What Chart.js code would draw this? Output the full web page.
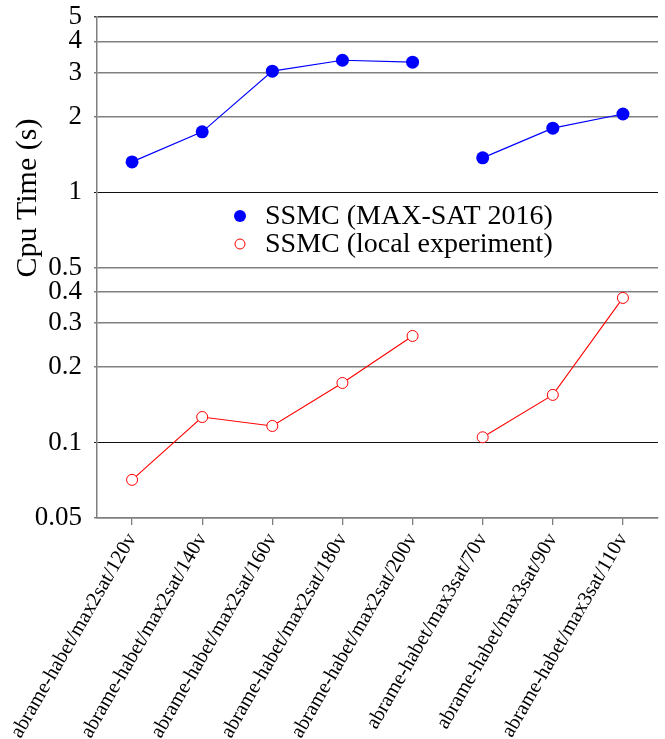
<!DOCTYPE html>
<html>
<head>
<meta charset="utf-8">
<script src="https://cdn.jsdelivr.net/npm/chart.js@4/dist/chart.umd.min.js"></script>
<style>
  html, body { margin: 0; padding: 0; background: #fff; }
  #c { display: block; }
</style>
</head>
<body>
<canvas id="c" width="665" height="739"></canvas>
<script>
const categories = [
  "abrame-habet/max2sat/120v",
  "abrame-habet/max2sat/140v",
  "abrame-habet/max2sat/160v",
  "abrame-habet/max2sat/180v",
  "abrame-habet/max2sat/200v",
  "abrame-habet/max3sat/70v",
  "abrame-habet/max3sat/90v",
  "abrame-habet/max3sat/110v"
];
const ssmcMaxSat2016 = [1.32, 1.74, 3.04, 3.36, 3.30, 1.37, 1.80, 2.05];
const ssmcLocal = [0.071, 0.1265, 0.1165, 0.173, 0.2665, 0.105, 0.155, 0.378];
const yTicks = [0.05, 0.1, 0.2, 0.3, 0.4, 0.5, 1, 2, 3, 4, 5];
const seriesNames = ["SSMC (MAX-SAT 2016)", "SSMC (local experiment)"];
const yTitle = "Cpu Time (s)";
const breakAfterIndex = 4;

const SERIF = "'Liberation Serif', 'DejaVu Serif', serif";

const gapSegment = {
  borderColor: ctx => ctx.p0DataIndex === breakAfterIndex ? 'rgba(0,0,0,0)' : undefined
};

const overlayPlugin = {
  id: 'overlay',
  afterDraw(chart) {
    const ctx = chart.ctx;
    const area = chart.chartArea;
    const y = chart.scales.y;
    // y axis title
    ctx.save();
    ctx.fillStyle = '#000';
    ctx.font = "30px " + SERIF;
    ctx.textAlign = 'center';
    ctx.textBaseline = 'middle';
    ctx.translate(28, y.getPixelForValue(1) + 6);
    ctx.rotate(-Math.PI / 2);
    ctx.fillText(yTitle, 0, 0);
    ctx.restore();
    // legend inside the plot
    const lx = area.left + 143;
    const ly = area.top + 199;
    const rowH = 28;
    chart.data.datasets.forEach((ds, i) => {
      const cy = ly + i * rowH;
      ctx.save();
      ctx.beginPath();
      ctx.arc(lx, cy, ds.pointRadius - 0.5, 0, Math.PI * 2);
      if (ds.pointBackgroundColor && ds.pointBackgroundColor !== '#ffffff') {
        ctx.fillStyle = ds.pointBackgroundColor;
        ctx.fill();
      } else {
        ctx.fillStyle = '#fff';
        ctx.fill();
        ctx.strokeStyle = ds.pointBorderColor;
        ctx.lineWidth = 1;
        ctx.stroke();
      }
      ctx.fillStyle = '#000';
      ctx.font = "28px " + SERIF;
      ctx.textAlign = 'left';
      ctx.textBaseline = 'middle';
      ctx.fillText(ds.label, lx + 25, cy + 1);
      ctx.restore();
    });
  }
};

new Chart(document.getElementById('c'), {
  type: 'line',
  data: {
    labels: categories,
    datasets: [
      {
        label: seriesNames[0],
        data: ssmcMaxSat2016,
        borderColor: '#0000ff',
        borderWidth: 1.2,
        pointRadius: 6.5,
        pointHoverRadius: 6.5,
        pointBackgroundColor: '#0000ff',
        pointBorderColor: '#0000ff',
        pointBorderWidth: 0,
        tension: 0,
        fill: false,
        segment: gapSegment
      },
      {
        label: seriesNames[1],
        data: ssmcLocal,
        borderColor: '#ff0000',
        borderWidth: 1.1,
        pointRadius: 5.5,
        pointHoverRadius: 5.5,
        pointBackgroundColor: '#ffffff',
        pointBorderColor: '#ff0000',
        pointBorderWidth: 1,
        tension: 0,
        fill: false,
        segment: gapSegment
      }
    ]
  },
  options: {
    responsive: false,
    animation: false,
    devicePixelRatio: 1,
    layout: { padding: { top: 17, right: 7, left: 0, bottom: 0 } },
    plugins: {
      legend: { display: false },
      tooltip: { enabled: false }
    },
    scales: {
      x: {
        type: 'category',
        offset: true,
        grid: {
          display: true,
          drawOnChartArea: false,
          drawTicks: true,
          tickLength: 7,
          color: '#7f7f7f',
          lineWidth: 1.3
        },
        border: { display: true, color: '#7f7f7f', width: 1.5 },
        ticks: {
          autoSkip: false,
          maxRotation: 60,
          minRotation: 60,
          padding: 4,
          color: '#000',
          font: { family: SERIF, size: 20.5 }
        },
        afterFit(scale) { scale.height = 221; scale.paddingLeft = 0; scale.paddingRight = 0; }
      },
      y: {
        type: 'logarithmic',
        min: 0.05,
        max: 5,
        afterBuildTicks(scale) {
          scale.ticks = yTicks.map(v => ({ value: v }));
        },
        afterFit(scale) { scale.width = 97; scale.paddingTop = 0; scale.paddingBottom = 0; },
        grid: {
          drawTicks: true,
          tickLength: 3,
          color: ctx => {
            const v = ctx.tick && ctx.tick.value;
            if (v === 1 || v === 0.1) return '#111';
            if (v === 5) return '#444';
            return '#808080';
          },
          lineWidth: ctx => {
            const v = ctx.tick && ctx.tick.value;
            if (v === 1 || v === 0.1) return 1.1;
            return 1.4;
          }
        },
        border: { display: true, color: '#7f7f7f', width: 1.5 },
        ticks: {
          padding: 12,
          color: '#000',
          font: { family: SERIF, size: 27 },
          callback: v => String(v)
        }
      }
    }
  },
  plugins: [overlayPlugin]
});
</script>
</body>
</html>
